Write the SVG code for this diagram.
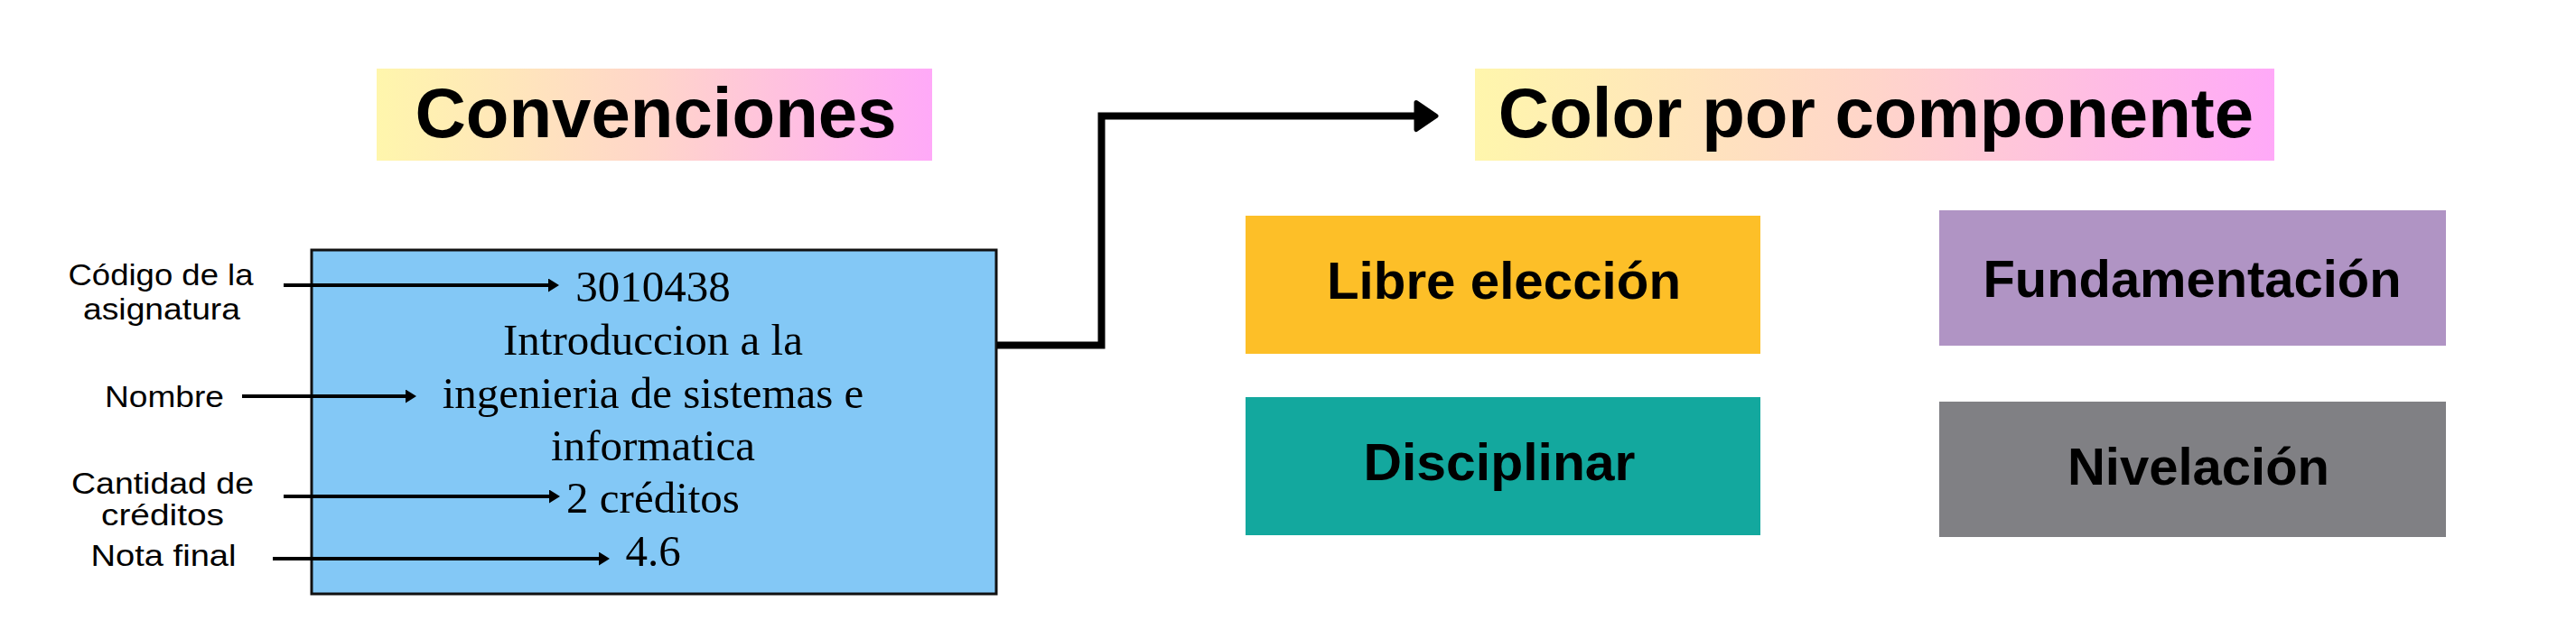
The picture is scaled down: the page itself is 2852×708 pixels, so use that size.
<svg xmlns="http://www.w3.org/2000/svg" width="2852" height="708" viewBox="0 0 2852 708">
<defs>
<linearGradient id="g" x1="0" y1="0" x2="1" y2="0">
<stop offset="0" stop-color="#FFF6AC"/>
<stop offset="0.5" stop-color="#FFD5CA"/>
<stop offset="1" stop-color="#FFA9F8"/>
</linearGradient>
<marker id="ah" viewBox="0 0 12 15" refX="2" refY="7.5" markerWidth="12" markerHeight="15" markerUnits="userSpaceOnUse" orient="auto">
<path d="M0,0 L12,7.5 L0,15 Z" fill="#000"/>
</marker>
<marker id="ahb" viewBox="0 0 28 36" refX="6" refY="18" markerWidth="28" markerHeight="36" markerUnits="userSpaceOnUse" orient="auto">
<path d="M3,3 L25,18 L3,33 Z" fill="#000" stroke="#000" stroke-width="5" stroke-linejoin="round"/>
</marker>
</defs>
<style>
.title{font-family:"Liberation Sans",Arial,sans-serif;font-weight:bold;font-size:78px;fill:#000;text-anchor:middle}
.lbl{font-family:"Liberation Sans",Arial,sans-serif;font-size:34px;fill:#000;text-anchor:middle}
.ser{font-family:"Liberation Serif","Times New Roman",serif;font-size:49px;fill:#000;text-anchor:middle}
.comp{font-family:"Liberation Sans",Arial,sans-serif;font-weight:bold;font-size:57px;fill:#000;text-anchor:middle}
.ln{stroke:#000;stroke-width:4;fill:none}
</style>
<rect width="2852" height="708" fill="#fff"/>

<g id="convenciones">
<rect x="417" y="76" width="615" height="102" fill="url(#g)"/>
<text class="title" x="726" y="152">Convenciones</text>
</g>

<g id="color-por-componente">
<rect x="1633" y="76" width="885" height="102" fill="url(#g)"/>
<text class="title" x="2077" y="152">Color por componente</text>
</g>

<g id="asignatura">
<rect x="345" y="277" width="758" height="381" fill="#83C8F6" stroke="#111" stroke-width="3"/>
<text class="ser" x="723" y="334">3010438</text>
<text class="ser" x="723" y="393">Introduccion a la</text>
<text class="ser" x="723" y="452">ingenieria de sistemas e</text>
<text class="ser" x="723" y="510">informatica</text>
<text class="ser" x="723" y="568">2 créditos</text>
<text class="ser" x="723" y="627">4.6</text>
</g>

<g id="labels">
<text class="lbl" x="178" y="316" textLength="205" lengthAdjust="spacingAndGlyphs">Código de la</text>
<text class="lbl" x="179" y="354" textLength="174" lengthAdjust="spacingAndGlyphs">asignatura</text>
<text class="lbl" x="182" y="451" textLength="132" lengthAdjust="spacingAndGlyphs">Nombre</text>
<text class="lbl" x="180" y="547" textLength="202" lengthAdjust="spacingAndGlyphs">Cantidad de</text>
<text class="lbl" x="180" y="582" textLength="136" lengthAdjust="spacingAndGlyphs">créditos</text>
<text class="lbl" x="181" y="627" textLength="161" lengthAdjust="spacingAndGlyphs">Nota final</text>
</g>

<g id="libre-eleccion">
<rect x="1379" y="239" width="570" height="153" fill="#FDBF28"/>
<text class="comp" x="1665" y="331" textLength="392" lengthAdjust="spacingAndGlyphs">Libre elección</text>
</g>
<g id="fundamentacion">
<rect x="2147" y="233" width="561" height="150" fill="#B094C4"/>
<text class="comp" x="2427" y="329" textLength="463" lengthAdjust="spacingAndGlyphs">Fundamentación</text>
</g>
<g id="disciplinar">
<rect x="1379" y="440" width="570" height="153" fill="#13A89E"/>
<text class="comp" x="1660" y="532" textLength="301" lengthAdjust="spacingAndGlyphs">Disciplinar</text>
</g>
<g id="nivelacion">
<rect x="2147" y="445" width="561" height="150" fill="#808084"/>
<text class="comp" x="2434" y="537" textLength="290" lengthAdjust="spacingAndGlyphs">Nivelación</text>
</g>

<g id="connectors">
<line class="ln" x1="314" y1="316" x2="609" y2="316" marker-end="url(#ah)"/>
<line class="ln" x1="268" y1="439" x2="451" y2="439" marker-end="url(#ah)"/>
<line class="ln" x1="314" y1="550" x2="610" y2="550" marker-end="url(#ah)"/>
<line class="ln" x1="302" y1="619" x2="665" y2="619" marker-end="url(#ah)"/>
<path d="M1104,382.5 H1219.5 V128.5 H1571" fill="none" stroke="#000" stroke-width="8" stroke-linejoin="miter" marker-end="url(#ahb)"/>
</g>
</svg>
